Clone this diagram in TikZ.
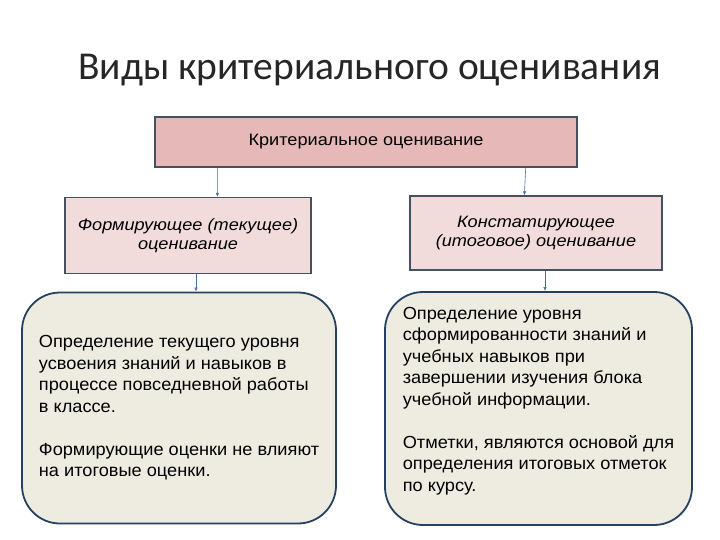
\documentclass[tikz,border=0pt]{standalone}
\usepackage{fontspec}
\setmainfont{Liberation Sans}
\newfontfamily\titlefont{Carlito}
\newfontfamily\widefont[FakeStretch=1.1]{Liberation Sans}
\newfontfamily\notefont[FakeStretch=1.04]{Liberation Sans}
\usepackage{tikz}
\usetikzlibrary{
    arrows.meta,
    positioning
}
\definecolor{critpink}{RGB}{230,185,184}
\definecolor{kindpink}{RGB}{242,220,219}
\definecolor{noteolive}{RGB}{238,236,225}
\definecolor{boxline}{RGB}{70,80,95}
\definecolor{noteline}{RGB}{37,64,97}
\definecolor{connblue}{RGB}{80,110,150}

\begin{document}
\begin{tikzpicture}[
        x=1pt, y=-1pt,
        title/.style={
            font=\titlefont\fontsize{39.5}{44}\selectfont,
            text=black!85,
            inner sep=0pt
        },
        critbox/.style={
            draw=boxline,
            line width=1.4pt,
            fill=critpink,
            align=center,
            minimum width=422pt,
            minimum height=50pt,
            font=\widefont\fontsize{16.5}{19}\selectfont
        },
        kindbox/.style={
            draw=boxline,
            line width=1.3pt,
            fill=kindpink,
            align=center,
            minimum height=76pt,
            font=\widefont\itshape\fontsize{16.5}{19}\selectfont
        },
        notebox/.style={
            draw=noteline,
            line width=1.8pt,
            rounded corners=38pt,
            fill=noteolive,
            align=left,
            minimum height=231pt,
            inner xsep=10pt,
            font=\notefont\fontsize{17.5}{21.5}\selectfont
        },
        conn/.style={
            -{Latex[length=1.4mm,width=1.2mm]},
            line width=0.6pt,
            draw=connblue
        }
    ]

    \useasboundingbox (0,0) rectangle (720,540);

    \node[title, anchor=west] (heading) at (78,70) {Виды критериального оценивания};

    \node[critbox] (crit) at (366,142) {Критериальное оценивание};

    \node[kindbox, minimum width=246pt] (formir) at (188,235.5) {
        Формирующее (текущее)\\оценивание
    };

    \node[kindbox, minimum width=252pt, minimum height=74pt] (konst) at (536,233) {
        Констатирующее\\(итоговое) оценивание
    };

    \node[notebox, minimum width=314pt] (noteL) at (179,408) {
        Определение текущего уровня\\
        усвоения знаний и навыков в\\
        процессе повседневной работы\\
        в классе.\\[21.5pt]
        Формирующие оценки не влияют\\
        на итоговые оценки.
    };

    \node[notebox, minimum width=307pt, minimum height=233pt] (noteR) at (538.5,408.5) {
        Определение уровня\\
        сформированности знаний и\\
        учебных навыков при\\
        завершении изучения блока\\
        учебной информации.\\[21.5pt]
        Отметки, являются основой для\\
        определения итоговых отметок\\
        по курсу.\\[-3pt]
    };

    \draw[conn] ([xshift=63pt]crit.south west) -- ([xshift=153pt]formir.north west);
    \draw[conn] ([xshift=-52pt]crit.south east) -- ([xshift=115pt]konst.north west);
    \draw[conn] ([xshift=8pt]formir.south) -- ([xshift=17pt]noteL.north);
    \draw[conn] ([xshift=9pt]konst.south) -- ([xshift=6.5pt]noteR.north);

    \end{tikzpicture}
\end{document}
